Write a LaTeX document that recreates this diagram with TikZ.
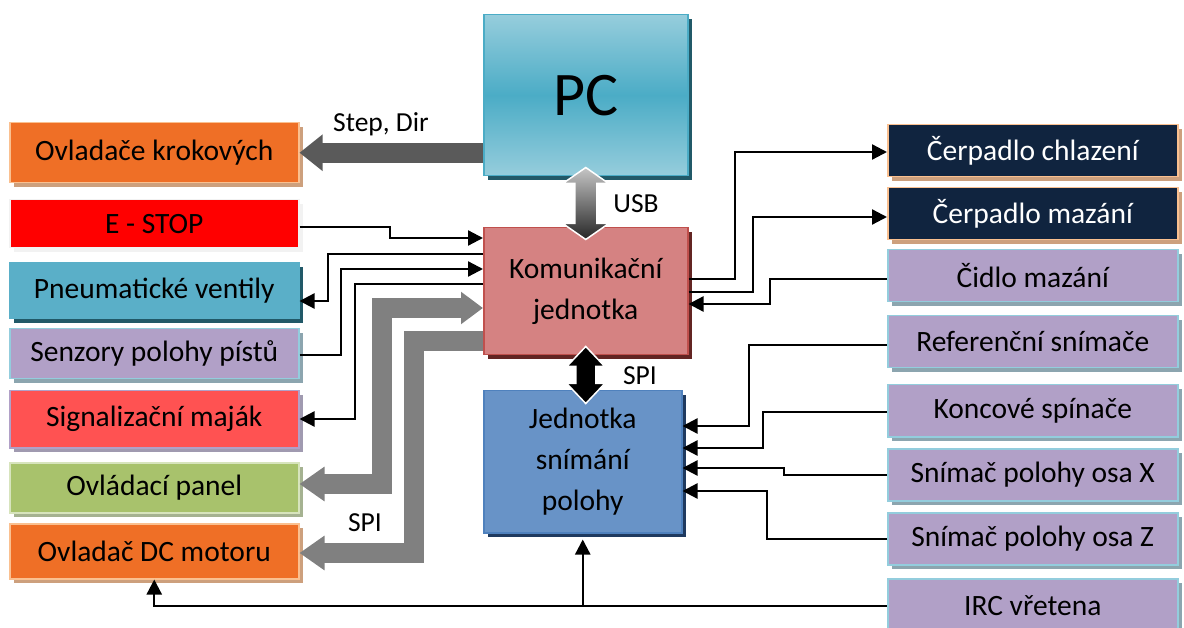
\documentclass[tikz,border=0pt]{standalone}
\usepackage{fontspec}
\setmainfont{Carlito}
\usetikzlibrary{arrows.meta}

\definecolor{KrokOrange}{RGB}{239,111,38}
\definecolor{KrokPeach}{RGB}{250,192,144}
\definecolor{KrokShade}{RGB}{205,160,125}
\definecolor{StopRed}{RGB}{255,0,0}
\definecolor{StopEdge}{RGB}{242,242,242}
\definecolor{PneuTeal}{RGB}{90,175,200}
\definecolor{PneuShade}{RGB}{33,89,104}
\definecolor{SenzLila}{RGB}{177,160,199}
\definecolor{SenzEdge}{RGB}{147,205,221}
\definecolor{SenzShade}{RGB}{140,165,175}
\definecolor{MajakRed}{RGB}{255,82,82}
\definecolor{MajakShade}{RGB}{160,154,176}
\definecolor{PanelGreen}{RGB}{168,194,108}
\definecolor{PanelEdge}{RGB}{215,228,189}
\definecolor{PanelShade}{RGB}{165,178,145}
\definecolor{PumpNavy}{RGB}{16,36,63}
\definecolor{PcLight}{RGB}{150,205,220}
\definecolor{PcMid}{RGB}{75,172,198}
\definecolor{KomRed}{RGB}{213,130,130}
\definecolor{KomEdge}{RGB}{192,80,77}
\definecolor{KomShade}{RGB}{99,37,35}
\definecolor{JedBlue}{RGB}{104,147,199}
\definecolor{JedEdge}{RGB}{79,129,189}
\definecolor{JedShade}{RGB}{31,58,95}
\definecolor{BusGrey}{RGB}{128,128,128}
\definecolor{StepGrey}{RGB}{90,90,90}

\newcommand{\boxfont}{\fontsize{29.5}{41}\selectfont}
\newcommand{\labfont}{\fontsize{27.5}{30}\selectfont}

\tikzset{
  unitbox/.style={rectangle, anchor=north west, inner sep=0pt, line width=1.5pt, font=\boxfont, align=center},
  shadowed/.style={preaction={fill=#1, transform canvas={xshift=4pt, yshift=-4pt}}},
  leftbox/.style={unitbox, minimum width=289pt},
  rightbox/.style={unitbox, minimum width=290pt, minimum height=52pt},
  orangebox/.style={fill=KrokOrange, draw=KrokPeach, shadowed=KrokShade},
  lilabox/.style={fill=SenzLila, draw=SenzEdge, shadowed=SenzShade},
  navybox/.style={fill=PumpNavy, draw=KrokPeach, shadowed=KrokShade, text=white},
  sig/.style={line width=2.3pt, -{Triangle[length=15pt, width=15pt]}},
  spibus/.style={BusGrey, line width=20pt},
  lab/.style={font=\labfont, inner sep=0pt},
}

\begin{document}
\begin{tikzpicture}[x=1pt, y=-1pt]
  \clip (0,0) rectangle (1184,628);

  % left column
  \node[leftbox, orangebox, minimum height=60pt] (kroky) at (9,122) {Ovladače krokových};
  \node[leftbox, fill=StopRed, draw=StopEdge, shadowed=StopEdge, minimum height=48pt] (estop) at (9,199) {E - STOP};
  \node[leftbox, fill=PneuTeal, draw=PneuTeal, shadowed=PneuShade, minimum height=56pt] (pneu) at (9,262) {Pneumatické ventily};
  \node[leftbox, lilabox, minimum height=50pt] (senz) at (9,328) {Senzory polohy pístů};
  \node[leftbox, fill=MajakRed, draw=SenzLila, shadowed=MajakShade, minimum height=57pt] (majak) at (9,390) {Signalizační maják};
  \node[leftbox, fill=PanelGreen, draw=PanelEdge, shadowed=PanelShade, minimum height=50pt] (panel) at (9,462) {Ovládací panel};
  \node[leftbox, orangebox, minimum height=55pt] (dcmot) at (9,523) {Ovladač DC motoru};

  % middle
  \node[unitbox, top color=PcLight, bottom color=PcLight, middle color=PcMid, draw=PcMid, shadowed=PneuShade,
        minimum width=204pt, minimum height=161pt, font=\fontsize{62}{62}\selectfont] (pc) at (483,14) {PC};
  \node[unitbox, fill=KomRed, draw=KomEdge, shadowed=KomShade, minimum width=204pt, minimum height=127pt] (kom) at (483,227) {Komunikační\\jednotka};
  \node[unitbox, fill=JedBlue, draw=JedEdge, shadowed=JedShade, minimum width=198pt, minimum height=142pt] (jed) at (483,390) {Jednotka\\snímání\\polohy};

  % right column
  \node[rightbox, navybox] (chlaz) at (887,124) {Čerpadlo chlazení};
  \node[rightbox, navybox] (mazani) at (887,187) {Čerpadlo mazání};
  \node[rightbox, lilabox] (cidlo) at (887,249) {Čidlo mazání};
  \node[rightbox, lilabox] (refsn) at (887,315) {Referenční snímače};
  \node[rightbox, lilabox] (konc) at (887,384) {Koncové spínače};
  \node[rightbox, lilabox] (osax) at (887,448) {Snímač polohy osa X};
  \node[rightbox, lilabox] (osaz) at (887,512) {Snímač polohy osa Z};
  \node[rightbox, lilabox, minimum height=54pt] (irc) at (887,578) {IRC vřetena};

  % buses
  \draw[StepGrey, line width=20pt, -{Triangle[length=23pt, width=35pt]}] (pc.west |- kroky.east) -- (kroky.east);
  \node[lab] (stepdir) at (381,124) {Step, Dir};
  \shade[top color=gray!45, bottom color=black!85, draw=white, line width=1.5pt]
    ([yshift=9pt]pc.south) -- ++(23,16) -- ++(-12,0) -- ++(0,40) -- ++(12,0) -- ++(-23,16)
    -- ++(-23,-16) -- ++(12,0) -- ++(0,-40) -- ++(-12,0) -- cycle;
  \node[lab] (usb) at (636,204) {USB};
  \filldraw[fill=black, draw=white, line width=1.5pt]
    ([yshift=9pt]kom.south) -- ++(19,20) -- ++(-9,0) -- ++(0,17) -- ++(9,0) -- ++(-19,20)
    -- ++(-19,-20) -- ++(9,0) -- ++(0,-17) -- ++(-9,0) -- cycle;
  \node[lab] (spi) at (640,376) {SPI};
  \draw[spibus, {Triangle[length=25pt, width=33pt]}-{Triangle[length=22pt, width=31pt]}] (panel.east |- 0,484) -| (382,308) -- (kom.west |- 0,308);
  \draw[spibus, -{Triangle[length=25pt, width=33pt]}] (kom.west |- 0,341) -| (414,553) -- (dcmot.east |- 0,553);
  \node[lab] (spib) at (365,523) {SPI};

  % signals left
  \draw[sig] (estop.east |- 0,227) -| (390,238) -- (kom.west |- 0,238);
  \draw[sig] (kom.west |- 0,254) -| (328,301) -- (pneu.east |- 0,301);
  \draw[sig] (senz.east |- 0,355) -| (341,269) -- (kom.west |- 0,269);
  \draw[sig] (kom.west |- 0,284) -| (355,419) -- (majak.east |- 0,419);

  % signals right
  \draw[sig] (kom.east |- 0,279) -| (735,152) -- (chlaz.west |- 0,152);
  \draw[sig] (kom.east |- 0,292) -| (753,217) -- (mazani.west |- 0,217);
  \draw[sig] (cidlo.west |- 0,279) -| (770,304) -- (kom.east |- 0,304);
  \draw[sig] (refsn.west |- 0,345) -| (749,426) -- (jed.east |- 0,426);
  \draw[sig] (konc.west |- 0,412) -| (763,448) -- (jed.east |- 0,448);
  \draw[sig] (osax.west |- 0,475) -| (784,468) -- (jed.east |- 0,468);
  \draw[sig] (osaz.west |- 0,539) -| (767,491) -- (jed.east |- 0,491);
  \draw[sig] (irc.west |- 0,606) -| (dcmot.south);
  \draw[sig, shorten >=6pt] (jed.south |- 0,606) -- (jed.south);
\end{tikzpicture}
\end{document}
